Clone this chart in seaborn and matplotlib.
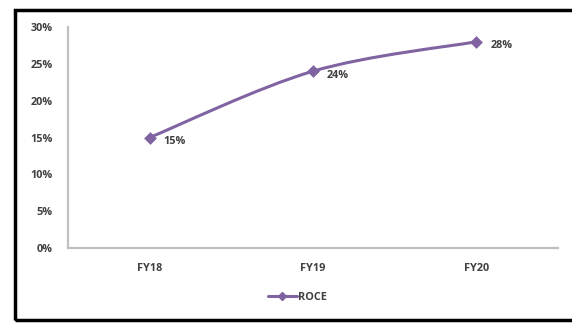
import matplotlib
matplotlib.use("Agg")
import matplotlib.pyplot as plt
import seaborn as sns
import pandas as pd
import numpy as np
from matplotlib.path import Path
from matplotlib.patches import PathPatch, Rectangle
from matplotlib.lines import Line2D

categories = ["FY18", "FY19", "FY20"]
roce = [15, 24, 28]
yticks = [0, 5, 10, 15, 20, 25, 30]
series_name = "ROCE"

sns.set_theme(style="white")
plt.rcParams['font.family'] = ['Open Sans', 'DejaVu Sans']

purple = "#8064A2"
txt = "#404040"
spine = "#C0C0C0"
fs = 7.8

fig = plt.figure(figsize=(5.72, 3.23), dpi=100)
ax = fig.add_axes([68/572, 1-248/323, 490/572, 221/323])

df = pd.DataFrame({"cat": categories, "val": roce})
df["x"] = np.arange(len(categories)) + 0.5

# smooth line (Excel-style Bezier through data points)
pts = df[["x", "val"]].to_numpy(dtype=float)
n = len(pts)
verts = [tuple(pts[0])]
codes = [Path.MOVETO]
for i in range(n - 1):
    p_prev = pts[i - 1] if i > 0 else pts[i]
    p_next = pts[i + 2] if i + 2 < n else pts[i + 1]
    c1 = pts[i] + (pts[i + 1] - p_prev) / 6
    c2 = pts[i + 1] - (p_next - pts[i]) / 6
    verts += [tuple(c1), tuple(c2), tuple(pts[i + 1])]
    codes += [Path.CURVE4] * 3
ax.add_patch(PathPatch(Path(verts, codes), facecolor="none", edgecolor=purple,
                       lw=2.2, transform=ax.transData, zorder=2))

sns.scatterplot(data=df, x="x", y="val", marker="D", s=36, color=purple,
                edgecolor=purple, ax=ax, zorder=3, legend=False)

for _, r in df.iterrows():
    ax.annotate(f"{r['val']}%", (r["x"], r["val"]), xytext=(10, -3),
                textcoords="offset points", fontsize=fs, fontweight="bold",
                color=txt, va="center", ha="left")

ax.set_xlim(0, 3)
ax.set_ylim(0, 30)
ax.set_xticks(df["x"])
ax.set_xticklabels(categories)
ax.set_yticks(yticks)
ax.set_yticklabels([f"{v}%" for v in yticks])
ax.tick_params(axis="both", length=0, labelsize=fs, colors=txt)
ax.tick_params(axis="y", pad=11)
ax.tick_params(axis="x", pad=11)
for lab in ax.get_xticklabels() + ax.get_yticklabels():
    lab.set_fontweight("bold")
ax.set_xlabel("")
ax.set_ylabel("")
for s in ["top", "right"]:
    ax.spines[s].set_visible(False)
for s in ["left", "bottom"]:
    ax.spines[s].set_color(spine)
    ax.spines[s].set_linewidth(1.6)

handle = Line2D([0], [0], color=purple, lw=2.2, marker="D", markersize=4)
leg = fig.legend([handle], [series_name], loc="center", bbox_to_anchor=(0.52, 1-297/323),
                 frameon=False, fontsize=fs, handlelength=2.6, handletextpad=0.1)
for t in leg.get_texts():
    t.set_fontweight("bold")
    t.set_color(txt)

fig.patches.append(Rectangle((15.5/572, 1-319.5/323), 0.99, (319.5-9.5)/323,
                             transform=fig.transFigure, fill=False,
                             edgecolor="black", lw=2.5, zorder=10))

fig.savefig("out.png", dpi=100)
